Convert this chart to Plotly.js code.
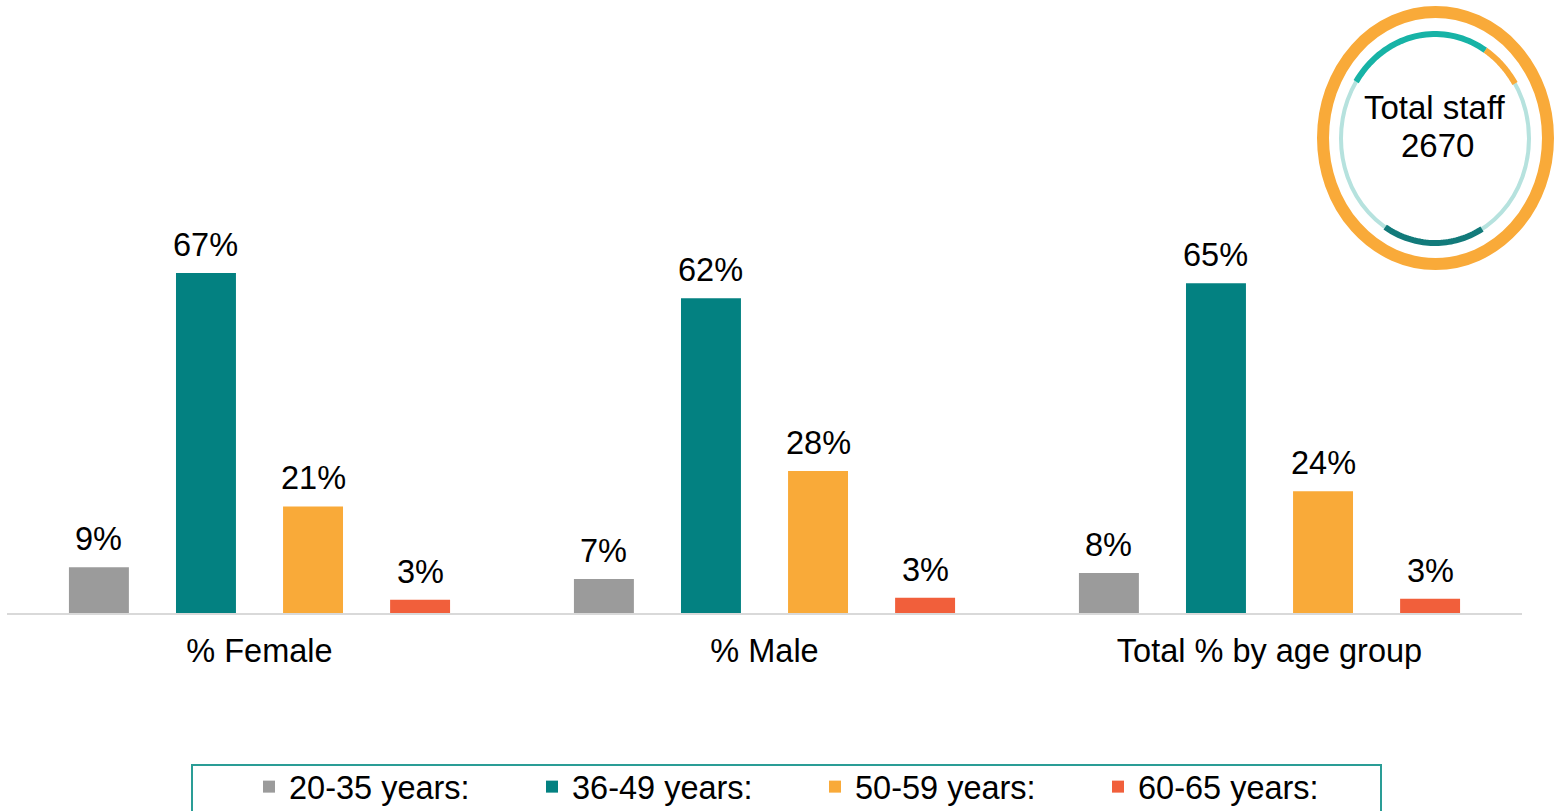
<!DOCTYPE html>
<html>
<head>
<meta charset="utf-8">
<script src="https://cdn.plot.ly/plotly-3.0.1.min.js"></script>
<style>
  html, body { margin: 0; padding: 0; background: #ffffff; }
  #chart { width: 1560px; height: 811px; }
</style>
</head>
<body>
<div id="chart"></div>
<script>
// ---- data ----
const categories = ['% Female', '% Male', 'Total % by age group'];
const seriesNames = ['20-35 years:', '36-49 years:', '50-59 years:', '60-65 years:'];
const age20_35 = [9, 6.7, 7.9];
const age36_49 = [67, 62, 65];
const age50_59 = [21, 28, 24];
const age60_65 = [2.6, 3, 2.8];
const labels20_35 = ['9%', '7%', '8%'];
const labels36_49 = ['67%', '62%', '65%'];
const labels50_59 = ['21%', '28%', '24%'];
const labels60_65 = ['3%', '3%', '3%'];
const badgeTitle = 'Total staff';
const totalStaff = 2670;

// ---- styles ----
const colors = ['#9b9b9b', '#038181', '#f9aa39', '#f15f3b'];
const FONT = 'Liberation Sans, Arial, sans-serif';
const FS = 32.5;

const valueSets = [age20_35, age36_49, age50_59, age60_65];
const labelSets = [labels20_35, labels36_49, labels50_59, labels60_65];

// plot area in pixels
const L = 7, R = 1522, T = 207, B = 613;
const W = 1560, H = 811;
const BARGAP = 0.152;
const px = v => (v - L) / (R - L);
const py = v => (B - v) / (B - T);

const traces = valueSets.map((vals, i) => ({
  type: 'bar',
  name: seriesNames[i],
  x: categories,
  y: vals,
  marker: { color: colors[i] },
  hoverinfo: 'skip'
}));

// value labels placed on the bars through the axis scales
const slotPx = (R - L) / categories.length * (1 - BARGAP) / valueSets.length;
const labelAnns = [];
valueSets.forEach((vals, i) => {
  vals.forEach((v, j) => {
    labelAnns.push({
      xref: 'x', yref: 'y', x: categories[j], y: v,
      xshift: (i - (valueSets.length - 1) / 2) * slotPx,
      yshift: 8,
      xanchor: 'center', yanchor: 'bottom',
      text: labelSets[i][j], showarrow: false,
      font: { family: FONT, size: FS, color: '#000000' }
    });
  });
});

function arcPath(cx, cy, rx, ry, a0, a1) {
  const n = 40;
  let d = '';
  for (let k = 0; k <= n; k++) {
    const a = (a0 + (a1 - a0) * k / n) * Math.PI / 180;
    const X = px(cx + rx * Math.cos(a));
    const Y = py(cy - ry * Math.sin(a));
    d += (k === 0 ? 'M ' : ' L ') + X.toFixed(5) + ',' + Y.toFixed(5);
  }
  return d;
}

const cx = 1435, cy = 138.5, irx = 94, iry = 104.5;
const shapes = [
  { type: 'circle', xref: 'paper', yref: 'paper',
    x0: px(1323), x1: px(1548), y0: py(264), y1: py(12),
    line: { color: '#f9aa39', width: 12 }, fillcolor: 'rgba(0,0,0,0)' },
  { type: 'circle', xref: 'paper', yref: 'paper',
    x0: px(cx - irx), x1: px(cx + irx), y0: py(cy + iry), y1: py(cy - iry),
    line: { color: '#b6e2de', width: 4 }, fillcolor: 'rgba(0,0,0,0)' },
  { type: 'path', xref: 'paper', yref: 'paper', path: arcPath(cx, cy, irx, iry, 57.6, 147),
    line: { color: '#17b3a6', width: 6 } },
  { type: 'path', xref: 'paper', yref: 'paper', path: arcPath(cx, cy, irx, iry, 31.7, 57.6),
    line: { color: '#f9aa39', width: 6 } },
  { type: 'path', xref: 'paper', yref: 'paper', path: arcPath(cx, cy, irx, iry, -122, -60),
    line: { color: '#127a7a', width: 6 } },
  // legend frame
  { type: 'rect', xref: 'paper', yref: 'paper',
    x0: px(192), x1: px(1381), y0: py(830), y1: py(765),
    line: { color: '#2a9d96', width: 2 }, fillcolor: 'rgba(0,0,0,0)' }
];

const layout = {
  width: W, height: H,
  margin: { l: L, r: W - R, t: T, b: H - B, pad: 0, autoexpand: false },
  paper_bgcolor: '#ffffff', plot_bgcolor: '#ffffff',
  font: { family: FONT, size: FS, color: '#000000' },
  barmode: 'group',
  bargap: BARGAP,
  bargroupgap: 0.44,
  showlegend: true,
  xaxis: {
    type: 'category',
    showline: true, linecolor: '#d9d9d9', linewidth: 2,
    ticks: '', showgrid: false, zeroline: false,
    tickfont: { family: FONT, size: FS, color: '#000000' },
    ticklabelstandoff: 8,
    automargin: false
  },
  yaxis: {
    range: [0, 80],
    visible: false, showgrid: false, zeroline: false, automargin: false
  },
  legend: {
    orientation: 'h',
    x: px(249), xanchor: 'left',
    y: py(759), yanchor: 'top',
    entrywidth: 238, entrywidthmode: 'pixels',
    font: { family: FONT, size: FS, color: '#000000' },
    borderwidth: 0, bgcolor: 'rgba(0,0,0,0)',
    traceorder: 'normal'
  },
  shapes: shapes,
  annotations: labelAnns.concat([
    { xref: 'paper', yref: 'paper', x: px(1434), y: py(107),
      xanchor: 'center', yanchor: 'middle', text: badgeTitle, showarrow: false,
      font: { family: FONT, size: 33, color: '#000000' } },
    { xref: 'paper', yref: 'paper', x: px(1437), y: py(146),
      xanchor: 'center', yanchor: 'middle', text: String(totalStaff), showarrow: false,
      font: { family: FONT, size: 33, color: '#000000' } }
  ])
};

Plotly.newPlot('chart', traces, layout, { displayModeBar: false, staticPlot: true });
</script>
</body>
</html>
